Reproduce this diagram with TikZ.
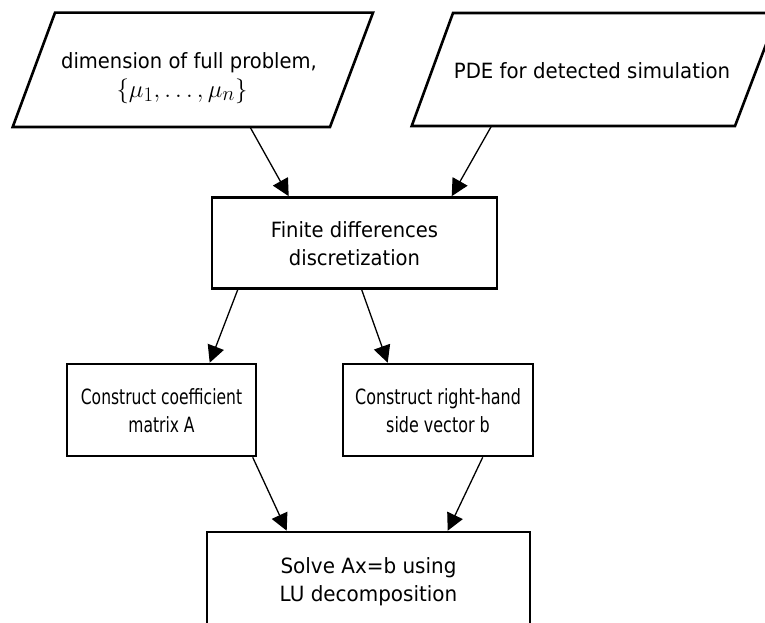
\documentclass[tikz,border=0pt]{standalone}
\usepackage{fontspec}
\usepackage{graphicx}
\setmainfont{DejaVu Sans}
\usetikzlibrary{arrows.meta}
\newcommand{\flowfont}{\fontsize{21bp}{28bp}\selectfont}
% centred lines of text, squeezed horizontally by #1 and set a little lower
\newcommand{\sqlines}[2]{\raisebox{-3bp}[\height][\depth]{\scalebox{#1}[1]{\begin{tabular}{@{}c@{}}#2\end{tabular}}}}
\begin{document}
\begin{tikzpicture}[x=1bp,y=-1bp,
  border/.style={line width=2.6bp},
  procbox/.style={draw,border,inner sep=0pt,align=center,font=\flowfont,
    minimum height=92bp},
  label/.style={inner sep=0pt,align=center,font=\flowfont},
  flow/.style={line width=1.3bp,-{Triangle[length=17bp,width=17bp]}}]
\useasboundingbox (0,0) rectangle (765,623);
\clip (0,0) rectangle (765,623);

% input parallelograms
\draw[border] (55,12.7) -- (373,12.7) -- (330,127) -- (12.7,127) -- cycle;
\node[label] (dim) at (189,60) {\sqlines{0.93}{dimension of full problem,}};
\node[inner sep=0pt] (mus) at (182,91)
  {\fontsize{32bp}{32bp}\selectfont$\{\mu_1,\ldots,\mu_n\}$};
\coordinate (dimout) at (250,127);

\draw[border] (453,13) -- (778,13) -- (735,126) -- (411.7,126) -- cycle;
\node[label] (pde) at (592,70) {\sqlines{0.94}{PDE for detected simulation}};
\coordinate (pdeout) at (491.5,126);

% process boxes
\node[procbox,minimum width=285bp,minimum height=91bp] (fd) at (354.5,243)
  {\sqlines{0.93}{Finite differences\\discretization}};
\node[procbox,minimum width=189bp] (coef) at (161.5,410)
  {\sqlines{0.74}{Construct coefficient\\matrix A}};
\node[procbox,minimum width=190bp] (rhs) at (438,410)
  {\sqlines{0.76}{Construct right-hand\\side vector b}};
\node[procbox,minimum width=323bp,minimum height=94bp] (solve) at (368.5,579)
  {\sqlines{0.95}{Solve Ax=b using\\LU decomposition}};

% connectors
\draw[flow] (dimout) -- ([xshift=78bp]fd.north west);
\draw[flow] (pdeout) -- ([xshift=241bp]fd.north west);
\draw[flow] ([xshift=27bp]fd.south west) -- ([xshift=144bp]coef.north west);
\draw[flow] ([xshift=151bp]fd.south west) -- ([xshift=46bp]rhs.north west);
\draw[flow] ([xshift=187bp]coef.south west) -- ([xshift=81bp]solve.north west);
\draw[flow] ([xshift=141bp]rhs.south west) -- ([xshift=242bp]solve.north west);
\end{tikzpicture}
\end{document}
